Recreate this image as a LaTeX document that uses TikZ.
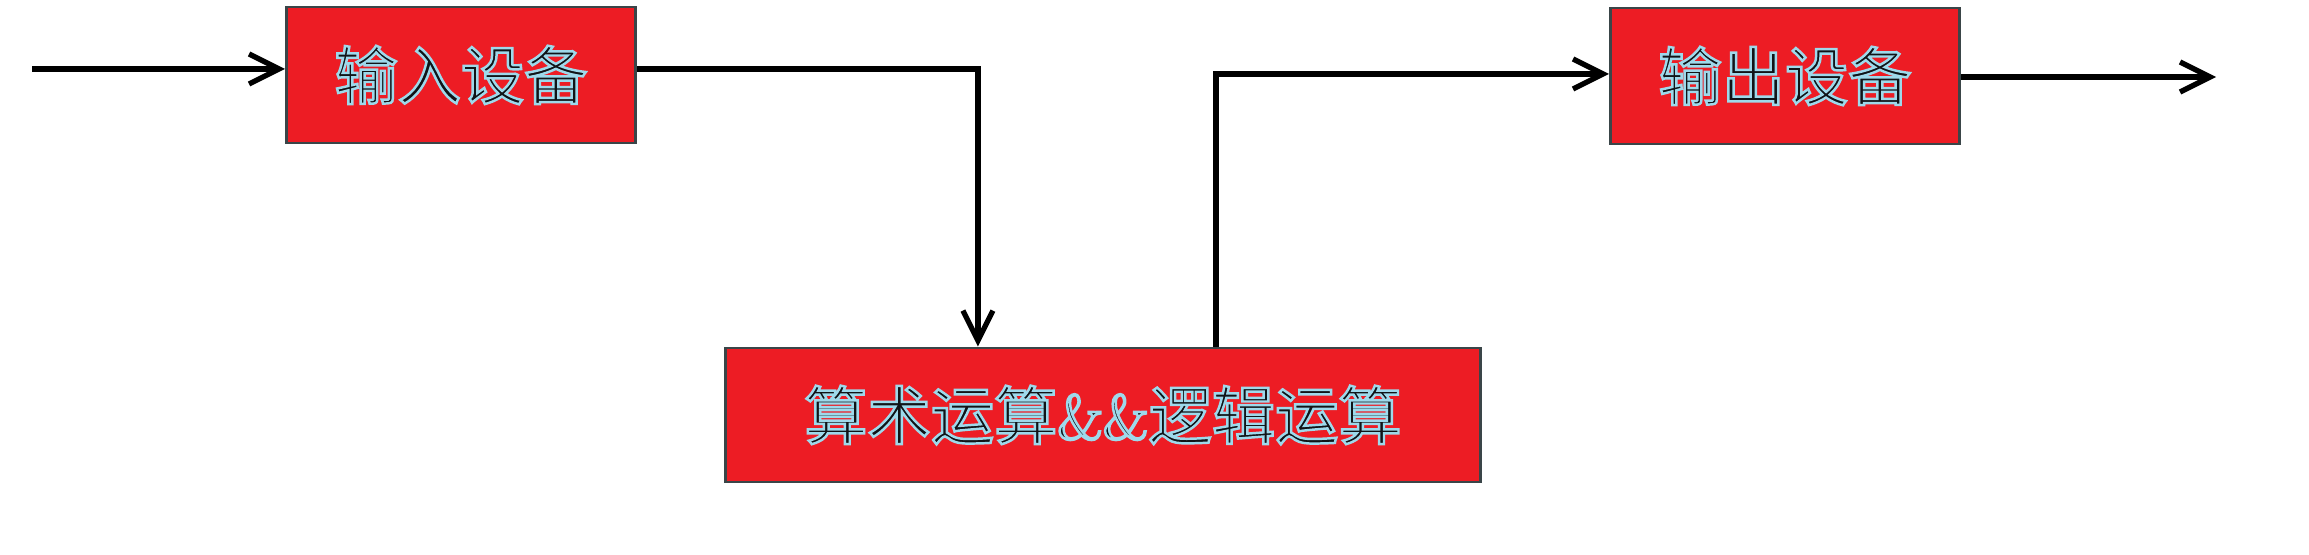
\documentclass[tikz,border=0pt]{standalone}
\usepackage{fontspec}
\usetikzlibrary{arrows.meta,positioning}
\newfontfamily\cjk{Noto Sans CJK SC}
\definecolor{boxred}{HTML}{ED1C24}
\definecolor{ink}{HTML}{101418}
\definecolor{rim}{HTML}{3A4548}
% dark letters with a light blue fringe
\newcommand\rimtext[1]{{\color{ink}\special{pdf:code q 2 Tr 0.7 w 0.62 0.85 0.92 RG}#1\special{pdf:code 0 Tr Q}}}

\begin{document}
\begin{tikzpicture}[x=0.01cm, y=-0.01cm, line width=1.5pt,
  >={Straight Barb[length=3mm,width=3mm,line width=1.5pt]},
  unit/.style={draw=rim, line width=0.8pt, fill=boxred, minimum height=1.36cm,
    inner sep=0pt, font=\cjk\fontsize{18}{20}\selectfont}]
\useasboundingbox (0,0) rectangle (2309,555);
\node[unit, minimum width=3.49cm] (inbox) at (461,75) {\rimtext{输入设备}};
\node[unit, minimum width=3.49cm] (outbox) at (1785,76) {\rimtext{输出设备}};
\node[unit, minimum width=7.55cm, minimum height=1.34cm] (alu) at (1103,415)
  {\rimtext{算术运算{\rmfamily\&\&}逻辑运算}};
\coordinate (src) at (32,69);
\coordinate (dst) at (2216,77);
\draw[->] (src) -- (src -| inbox.west);
\draw[->] (inbox.east |- src) -| ([xshift=-1.25cm]alu.north);
\draw[->] ([xshift=1.13cm]alu.north) |- ([yshift=0.02cm]outbox.west);
\draw[->] (outbox.east |- dst) -- (dst);
\end{tikzpicture}
\end{document}
